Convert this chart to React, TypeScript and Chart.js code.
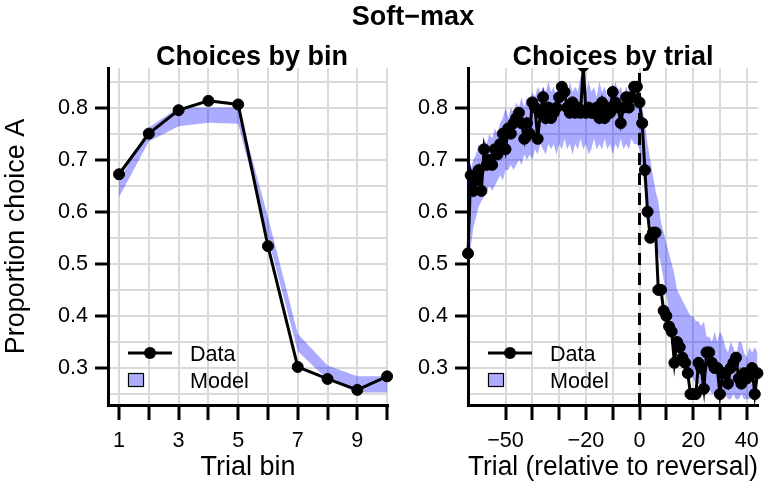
import React, { useEffect, useRef } from "react";
import { Chart, registerables } from "chart.js";

Chart.register(...registerables);

const FONT = "'Liberation Sans', Arial, Helvetica, sans-serif";
const BAND = "rgba(0,0,255,0.33)";
const GRID = "#D9D9D9";

// ---------- Data: choices by bin ----------
const binX = [1, 2, 3, 4, 5, 6, 7, 8, 9, 10];
const binData = [0.672, 0.75, 0.795, 0.813, 0.806, 0.534, 0.302, 0.279, 0.258, 0.284];
const binModelLow = [0.628, 0.735, 0.764, 0.771, 0.769, 0.55, 0.332, 0.278, 0.253, 0.253];
const binModelHigh = [0.659, 0.762, 0.8, 0.8, 0.8, 0.59, 0.366, 0.305, 0.284, 0.284];
const binTicks = [1, 2, 3, 4, 5, 6, 7, 8, 9, 10];
const binTickLabels = [1, 3, 5, 7, 9];

// ---------- Data: choices by trial ----------
const trialX = [
  -64, -63, -62, -61, -60, -59, -58, -57, -56, -55,
  -54, -53, -52, -51, -50, -49, -48, -47, -46, -45,
  -44, -43, -42, -41, -40, -39, -38, -37, -36, -35,
  -34, -33, -32, -31, -30, -29, -28, -27, -26, -25,
  -24, -23, -22, -21, -20, -19, -18, -17, -16, -15,
  -14, -13, -12, -11, -10, -9, -8, -7, -6, -5,
  -4, -3, -2, -1, 0, 1, 2, 3, 4, 5,
  6, 7, 8, 9, 10, 11, 12, 13, 14, 15,
  16, 17, 18, 19, 20, 21, 22, 23, 24, 25,
  26, 27, 28, 29, 30, 31, 32, 33, 34, 35,
  36, 37, 38, 39, 40, 41, 42, 43, 44,
];
const trialData = [
  0.52, 0.67, 0.64, 0.66, 0.68, 0.64, 0.72, 0.69, 0.7, 0.69,
  0.72, 0.71, 0.73, 0.75, 0.72, 0.76, 0.75, 0.77, 0.78, 0.79,
  0.77, 0.74, 0.77, 0.75, 0.81, 0.8, 0.74, 0.79, 0.82, 0.78,
  0.8, 0.78, 0.79, 0.8, 0.82, 0.84, 0.83, 0.8, 0.79, 0.81,
  0.79, 0.8, 0.79, 0.88, 0.79, 0.8, 0.79, 0.79, 0.8, 0.78,
  0.81, 0.78, 0.8, 0.79, 0.83, 0.81, 0.8, 0.77, 0.8, 0.82,
  0.8, 0.82, 0.84, 0.84, 0.81, 0.77, 0.68, 0.6, 0.55, 0.56,
  0.56, 0.45, 0.45, 0.41, 0.4, 0.38, 0.37, 0.31, 0.35, 0.34,
  0.32, 0.31, 0.29, 0.25, 0.25, 0.25, 0.31, 0.3, 0.26, 0.33,
  0.33, 0.31, 0.3, 0.3, 0.25, 0.29, 0.29, 0.27, 0.3, 0.31,
  0.32, 0.28, 0.27, 0.29, 0.28, 0.29, 0.3, 0.25, 0.29,
];
const trialModelLow = [
  0.5, 0.53, 0.57, 0.59, 0.61, 0.62, 0.63, 0.64, 0.65, 0.64,
  0.65, 0.66, 0.67, 0.66, 0.68, 0.68, 0.69, 0.68, 0.69, 0.7,
  0.69, 0.71, 0.7, 0.71, 0.7, 0.72, 0.71, 0.73, 0.72, 0.71,
  0.73, 0.72, 0.73, 0.71, 0.73, 0.72, 0.74, 0.72, 0.73, 0.71,
  0.73, 0.72, 0.74, 0.72, 0.73, 0.71, 0.72, 0.74, 0.72, 0.73,
  0.72, 0.74, 0.72, 0.73, 0.71, 0.73, 0.72, 0.74, 0.72, 0.73,
  0.72, 0.74, 0.73, 0.73, 0.72, 0.68, 0.64, 0.6, 0.58, 0.56,
  0.54, 0.52, 0.5, 0.47, 0.44, 0.41, 0.39, 0.37, 0.36, 0.34,
  0.33, 0.31, 0.3, 0.29, 0.28, 0.27, 0.27, 0.26, 0.26, 0.25,
  0.26, 0.25, 0.25, 0.24, 0.25, 0.24, 0.25, 0.24, 0.24, 0.25,
  0.24, 0.24, 0.25, 0.24, 0.24, 0.24, 0.25, 0.24, 0.24,
];
const trialModelHigh = [
  0.7, 0.68, 0.7, 0.71, 0.73, 0.72, 0.74, 0.73, 0.75, 0.74,
  0.76, 0.75, 0.77, 0.78, 0.8, 0.78, 0.8, 0.79, 0.81, 0.8,
  0.82, 0.8, 0.82, 0.81, 0.83, 0.82, 0.84, 0.83, 0.84, 0.83,
  0.85, 0.83, 0.84, 0.82, 0.85, 0.83, 0.84, 0.82, 0.85, 0.83,
  0.84, 0.83, 0.86, 0.84, 0.83, 0.85, 0.83, 0.84, 0.82, 0.85,
  0.83, 0.84, 0.82, 0.84, 0.83, 0.85, 0.83, 0.84, 0.82, 0.84,
  0.83, 0.85, 0.84, 0.84, 0.83, 0.8, 0.77, 0.73, 0.7, 0.67,
  0.64, 0.62, 0.58, 0.56, 0.54, 0.52, 0.5, 0.48, 0.45, 0.44,
  0.43, 0.42, 0.41, 0.4, 0.4, 0.39, 0.39, 0.38, 0.39, 0.36,
  0.36, 0.35, 0.37, 0.35, 0.37, 0.36, 0.34, 0.33, 0.35, 0.34,
  0.32, 0.35, 0.35, 0.33, 0.32, 0.34, 0.33, 0.34, 0.33,
];
const trialTicks = [-50, -40, -30, -20, -10, 0, 10, 20, 30, 40];
const trialTickLabels = [-50, -20, 0, 20, 40];
const reversalTrial = 0;

// ---------- Shared y axis ----------
const yMin = 0.229;
const yMax = 0.876;
const yGridTicks = [0.25, 0.3, 0.35, 0.4, 0.45, 0.5, 0.55, 0.6, 0.65, 0.7, 0.75, 0.8, 0.85];
const yTickLabels = [0.3, 0.4, 0.5, 0.6, 0.7, 0.8];

const isIn = (arr: number[], v: number) => arr.some((a) => Math.abs(a - v) < 1e-9);
const fmtNum = (v: number) => (v < 0 ? "\u2212" + String(Math.abs(v)) : String(v));

const legendPlugin = {
  id: "insideLegend",
  afterDatasetsDraw(chart: any) {
    const { ctx, chartArea } = chart;
    const x0 = chartArea.left + 20;
    const yData = chartArea.bottom - 52;
    const yModel = chartArea.bottom - 25;
    ctx.save();
    ctx.strokeStyle = "#000";
    ctx.lineWidth = 3;
    ctx.beginPath();
    ctx.moveTo(x0, yData);
    ctx.lineTo(x0 + 44, yData);
    ctx.stroke();
    ctx.beginPath();
    ctx.arc(x0 + 22, yData, 6, 0, Math.PI * 2);
    ctx.fillStyle = "#000";
    ctx.fill();
    ctx.fillStyle = BAND;
    ctx.fillRect(x0, yModel - 7, 16, 14);
    ctx.lineWidth = 1.2;
    ctx.strokeRect(x0 + 0.5, yModel - 6.5, 15, 13);
    ctx.font = `21.6px ${FONT}`;
    ctx.fillStyle = "#000";
    ctx.textBaseline = "alphabetic";
    ctx.textAlign = "left";
    ctx.fillText("Data", chartArea.left + 82, yData + 8);
    ctx.fillText("Model", chartArea.left + 82, yModel + 7.5);
    ctx.restore();
  },
};

function makeY(width: number, withTitle: boolean) {
  return {
    type: "linear",
    min: yMin,
    max: yMax,
    afterBuildTicks: (s: any) => {
      s.ticks = yGridTicks.map((v) => ({ value: v }));
    },
    afterFit: (s: any) => {
      s.width = width;
    },
    ticks: {
      autoSkip: false,
      color: "#000",
      padding: 7,
      font: { family: FONT, size: 21.6 },
      callback: (v: number) => (isIn(yTickLabels, v) ? v.toFixed(1) : ""),
    },
    grid: {
      color: GRID,
      lineWidth: 2,
      tickLength: 13,
      tickWidth: 3,
      tickColor: (c: any) => (c.tick && isIn(yTickLabels, c.tick.value) ? "#000" : "rgba(0,0,0,0)"),
    },
    border: { color: "#000", width: 3 },
    title: {
      display: withTitle,
      text: "Proportion choice A",
      color: "#000",
      font: { family: FONT, size: 27 },
      padding: { top: 0, bottom: 0 },
    },
  };
}

function makeX(min: number, max: number, ticks: number[], labels: number[], title: string) {
  return {
    type: "linear",
    min,
    max,
    afterBuildTicks: (s: any) => {
      s.ticks = ticks.map((v) => ({ value: v }));
    },
    afterFit: (s: any) => {
      s.height = 84;
    },
    ticks: {
      autoSkip: false,
      maxRotation: 0,
      color: "#000",
      padding: 8,
      font: { family: FONT, size: 21.6 },
      callback: (v: number) => (isIn(labels, v) ? fmtNum(v) : ""),
    },
    grid: {
      color: GRID,
      lineWidth: 2,
      tickLength: 15,
      tickWidth: 3,
      tickColor: "#000",
    },
    border: { color: "#000", width: 3 },
    title: {
      display: true,
      text: title,
      color: "#000",
      font: { family: FONT, size: 27 },
      padding: { top: 0, bottom: 5 },
    },
  };
}

const dataStyle = {
  borderColor: "#000",
  borderWidth: 3,
  pointRadius: 5.5,
  pointBorderWidth: 1,
  pointBackgroundColor: "#000",
  pointBorderColor: "#000",
  fill: false,
  order: 1,
  tension: 0,
};

function leftConfig(): any {
  const pts = (ys: number[]) => binX.map((x, i) => ({ x, y: ys[i] }));
  return {
    type: "line",
    data: {
      datasets: [
        { data: pts(binModelLow), borderColor: "rgba(0,0,0,0)", borderWidth: 0, pointRadius: 0, fill: false, order: 4, tension: 0 },
        { data: pts(binModelHigh), borderColor: "rgba(0,0,0,0)", borderWidth: 0, pointRadius: 0, fill: "-1", backgroundColor: BAND, order: 3, tension: 0 },
        { data: pts(binData), ...dataStyle, clip: false },
      ],
    },
    options: {
      responsive: false,
      animation: false,
      layout: { padding: { top: 68, right: 12, bottom: 0, left: 0 } },
      plugins: { legend: { display: false }, tooltip: { enabled: false }, title: { display: false } },
      scales: {
        x: makeX(0.63, 10.03, binTicks, binTickLabels, "Trial bin"),
        y: makeY(108, true),
      },
    },
    plugins: [legendPlugin],
  };
}

function rightConfig(): any {
  const pts = (ys: number[]) => trialX.map((x, i) => ({ x, y: ys[i] }));
  return {
    type: "line",
    data: {
      datasets: [
        { data: pts(trialModelLow), borderColor: "rgba(0,0,0,0)", borderWidth: 0, pointRadius: 0, fill: false, order: 4, tension: 0 },
        { data: pts(trialModelHigh), borderColor: "rgba(0,0,0,0)", borderWidth: 0, pointRadius: 0, fill: "-1", backgroundColor: BAND, order: 3, tension: 0 },
        {
          data: [
            { x: reversalTrial, y: yMin },
            { x: reversalTrial, y: yMax },
          ],
          borderColor: "#000",
          borderWidth: 3,
          borderDash: [12, 8],
          pointRadius: 0,
          fill: false,
          order: 2,
        },
        { data: pts(trialData), ...dataStyle, clip: { left: 8, right: 8, top: 0, bottom: 8 } },
      ],
    },
    options: {
      responsive: false,
      animation: false,
      layout: { padding: { top: 68, right: 16, bottom: 0, left: 0 } },
      plugins: { legend: { display: false }, tooltip: { enabled: false }, title: { display: false } },
      scales: {
        x: makeX(-64, 44.2, trialTicks, trialTickLabels, "Trial (relative to reversal)"),
        y: makeY(68, false),
      },
    },
    plugins: [legendPlugin],
  };
}

const titleStyle = (cx: number, top: number): React.CSSProperties => ({
  position: "absolute",
  left: cx - 200,
  width: 400,
  top,
  textAlign: "center",
  fontFamily: FONT,
  fontWeight: "bold",
  fontSize: 27,
  lineHeight: "30px",
  whiteSpace: "nowrap",
  color: "#000",
});

export default function App() {
  const leftRef = useRef<HTMLCanvasElement>(null);
  const rightRef = useRef<HTMLCanvasElement>(null);
  useEffect(() => {
    const c1 = new Chart(leftRef.current as HTMLCanvasElement, leftConfig());
    const c2 = new Chart(rightRef.current as HTMLCanvasElement, rightConfig());
    return () => {
      c1.destroy();
      c2.destroy();
    };
  }, []);
  return (
    <div style={{ position: "absolute", left: 0, top: 0, width: 774, height: 489, background: "#fff", overflow: "hidden" }}>
      <canvas ref={leftRef} width={400} height={489} style={{ position: "absolute", left: 0, top: 0 }} />
      <canvas ref={rightRef} width={374} height={489} style={{ position: "absolute", left: 400, top: 0 }} />
      <div style={titleStyle(413, 1)}>Soft{"\u2212"}max</div>
      <div style={titleStyle(252, 41)}>Choices by bin</div>
      <div style={titleStyle(613, 41)}>Choices by trial</div>
    </div>
  );
}
